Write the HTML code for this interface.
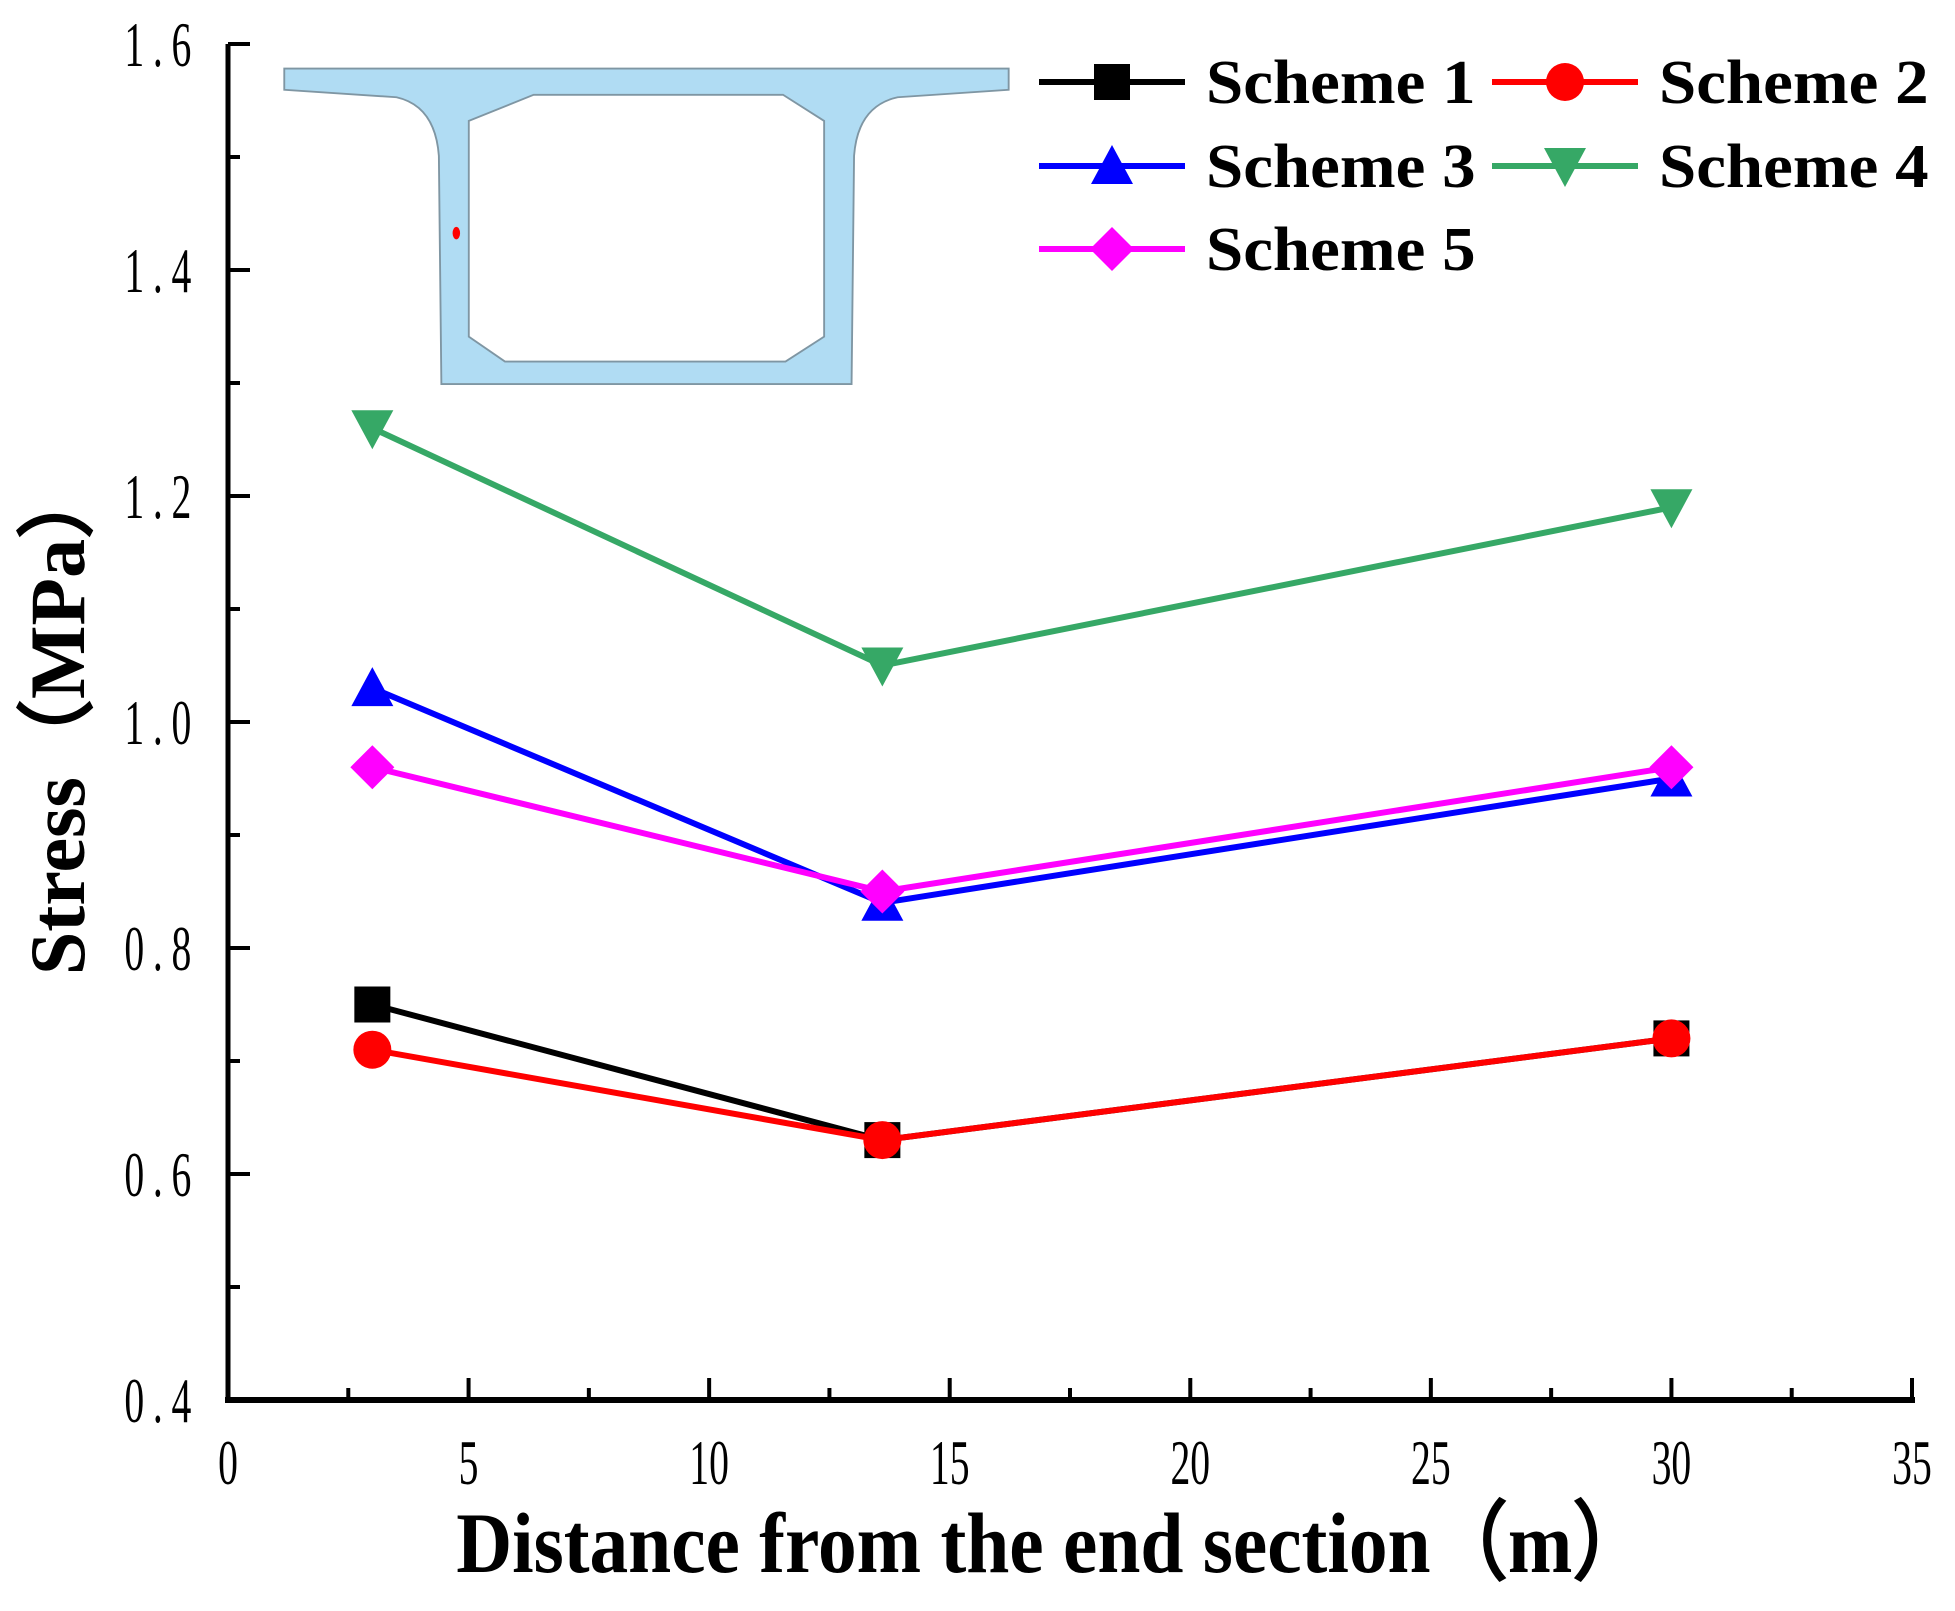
<!DOCTYPE html>
<html><head><meta charset="utf-8"><style>
body{margin:0;background:#fff}
svg text{font-family:"Liberation Serif",serif}
</style></head><body>
<svg id="chart" width="1955" height="1606" xmlns="http://www.w3.org/2000/svg">
<rect width="1955" height="1606" fill="#fff"/>
<g transform="scale(1.2468)">
<path d="M228,55 L809,55 L809,72 L720,78 Q688,85 685,125 L683,308 L354,308 L352,125 Q349,85 318,78 L228,72 Z M428,76 L628,76 L661,97 L661,270 L630,290 L405,290 L376,270 L376,97 Z" fill="#b0dcf3" fill-rule="evenodd" stroke="#7f96a3" stroke-width="1.5"/>
<ellipse cx="366" cy="187" rx="3" ry="5" fill="#f00"/>
</g>
<g id="axes"></g>
<g id="series"></g>
<g id="legend"></g>
<text x="1053" y="1572" text-anchor="middle" font-size="86" font-weight="bold" transform="translate(1053,0) scale(0.9,1) translate(-1053,0)">Distance from the end section（m）</text>
<text x="0" y="0" text-anchor="middle" font-size="78" font-weight="bold" transform="translate(84,718) rotate(-90)">Stress（MPa）</text>
</svg>
<script>
const categories=[3,13.6,30];
const s1=[0.75,0.63,0.72];
const s2=[0.71,0.63,0.72];
const s3=[1.03,0.84,0.95];
const s4=[1.26,1.05,1.19];
const s5=[0.96,0.85,0.96];
const xTicks=[0,5,10,15,20,25,30,35];
const yTicks=[0.4,0.6,0.8,1.0,1.2,1.4,1.6];
const yTickLabels=["0.4","0.6","0.8","1.0","1.2","1.4","1.6"];
const seriesNames=["Scheme 1","Scheme 2","Scheme 3","Scheme 4","Scheme 5"];
const NS="http://www.w3.org/2000/svg";
const X=v=>228+(v-0)/35*(1912-228);
const Y=v=>1400-(v-0.4)/1.2*(1400-44);
function mk(t,a,p){const e=document.createElementNS(NS,t);for(const k in a)e.setAttribute(k,a[k]);p.appendChild(e);return e;}
const ax=document.getElementById('axes');
let l=mk('line',{x1:228,y1:44,x2:228,y2:1403,stroke:'#000','stroke-width':5},ax);


l=mk('line',{x1:225,y1:1400,x2:1915,y2:1400,stroke:'#000','stroke-width':6},ax);


xTicks.forEach((v,i)=>{
 const t=mk('line',{x1:X(v),y1:1400,x2:X(v),y2:1378,stroke:'#000','stroke-width':4},ax);
 
 
 if(i<xTicks.length-1){const m=mk('line',{x1:X(v+2.5),y1:1400,x2:X(v+2.5),y2:1388,stroke:'#000','stroke-width':4},ax);
 
 }
 const tx=mk('text',{x:X(v),y:1484,'text-anchor':'middle','font-size':64,transform:`translate(${X(v)},0) scale(0.62,1) translate(${-X(v)},0)`},ax);
 tx.textContent=String(v);
 
 
});
yTicks.forEach((v,i)=>{
 const t=mk('line',{x1:228,y1:Y(v),x2:250,y2:Y(v),stroke:'#000','stroke-width':4},ax);
 
 
 if(i<yTicks.length-1){const m=mk('line',{x1:228,y1:Y(v+0.1),x2:240,y2:Y(v+0.1),stroke:'#000','stroke-width':4},ax);
 
 }
 const tx=mk('text',{x:200,y:Y(v)+22,'text-anchor':'end','font-size':64,'letter-spacing':14,transform:`translate(200,0) scale(0.62,1) translate(-200,0)`},ax);
 tx.textContent=yTickLabels[i];
 
 
});
function marker(type,cx,cy,c,p){
 const r=18;
 if(type==='sq')return mk('rect',{x:cx-r,y:cy-r,width:2*r,height:2*r,fill:c},p);
 if(type==='ci')return mk('circle',{cx:cx,cy:cy,r:r+1,fill:c},p);
 if(type==='up')return mk('polygon',{points:`${cx},${cy-r-3} ${cx+r+3},${cy+r} ${cx-r-3},${cy+r}`,fill:c},p);
 if(type==='dn')return mk('polygon',{points:`${cx},${cy+r+3} ${cx+r+3},${cy-r} ${cx-r-3},${cy-r}`,fill:c},p);
 return mk('polygon',{points:`${cx},${cy-r-4} ${cx+r+4},${cy} ${cx},${cy+r+4} ${cx-r-4},${cy}`,fill:c},p);
}
const data=[s1,s2,s3,s4,s5];
const colors=['#000','#f00','#00f','#36a866','#f0f'];
const shapes=['sq','ci','up','dn','di'];
const sg=document.getElementById('series');
data.forEach((d,k)=>{
 const g=mk('g',{},sg);
 
 
 const pl=mk('polyline',{points:d.map((v,i)=>X(categories[i])+','+Y(v)).join(' '),fill:'none',stroke:colors[k],'stroke-width':6},g);
 
 
 d.forEach((v,i)=>{const m=marker(shapes[k],X(categories[i]),Y(v),colors[k],g);
 
 });
});
const lg=document.getElementById('legend');
const pos=[[1039,82],[1492,82],[1039,166],[1492,166],[1039,249]];
seriesNames.forEach((n,k)=>{
 const [x,y]=pos[k];
 const g=mk('g',{},lg);
 
 
 mk('line',{x1:x,y1:y,x2:x+146,y2:y,stroke:colors[k],'stroke-width':6},g);
 marker(shapes[k],x+73,y,colors[k],g);
 const t=mk('text',{x:x+167,y:y+21,'font-size':62,'font-weight':'bold',transform:`translate(${x+167},0) scale(1.08,1) translate(${-(x+167)},0)`},g);
 t.textContent=n;
});
</script>
</body></html>
